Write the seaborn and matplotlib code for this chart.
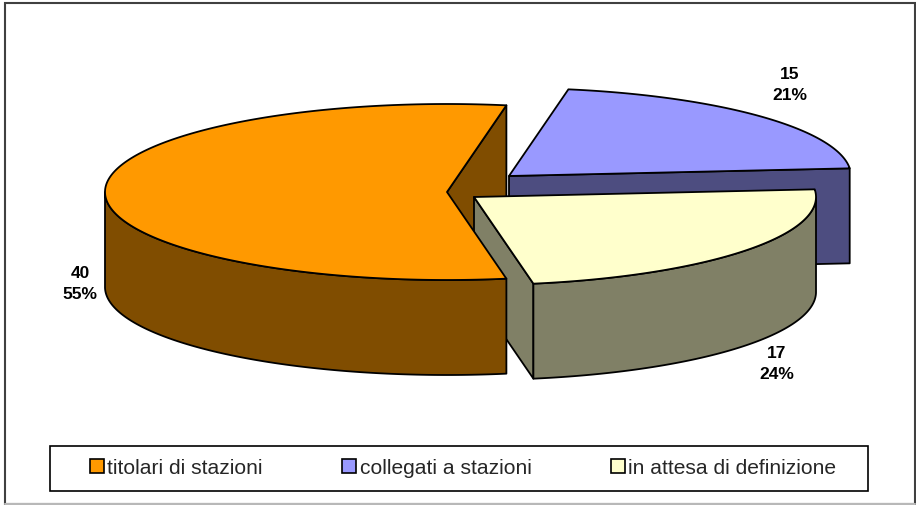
import numpy as np
import seaborn as sns
import matplotlib.pyplot as plt
from matplotlib.patches import Patch, Rectangle

categories = ['titolari di stazioni', 'collegati a stazioni', 'in attesa di definizione']
values = [40, 15, 17]
percents = ['55%', '21%', '24%']

top_colors = ['#FF9900', '#9999FF', '#FFFFCC']
side_colors = ['#804D00', '#4D4D80', '#808066']
apex = [(447, 192), (509, 176), (474, 197)]  # each slice is pulled out on its own
label_pos = [(80, 284), (790, 85), (777, 364)]

RX, RY, DEPTH = 342, 88, 95

sns.set_theme(style='white')
plt.rcParams['font.family'] = ['Liberation Sans', 'DejaVu Sans']

fig = plt.figure(figsize=(9.16, 5.05), dpi=100)
ax = fig.add_axes([0, 0, 1, 1])
ax.set_xlim(0, 916)
ax.set_ylim(505, 0)
ax.axis('off')

ax.add_patch(Rectangle((5, 3), 910, 501, fc='white', ec='#404040', lw=1.5))
ax.plot([5, 915], [504, 504], color='#b8b8b8', lw=1.5, zorder=2)


def arc(center, a0, a1):
    t = np.radians(np.linspace(a0, a1, 200))
    return center[0] + RX * np.cos(t), center[1] - RY * np.sin(t)


def draw(xs, ys, color, z):
    ax.fill(xs, ys, fc=color, ec='black', lw=1.3, joinstyle='round', zorder=z)


# angles go counter clockwise, orange starts at 80 and then yellow and blue follow
starts = {}
a = 80
for i in [0, 2, 1]:
    sweep = values[i] / sum(values) * 360
    starts[i] = (a, a + sweep)
    a += sweep

z_faces = {1: 3, 0: 4, 2: 5}
for i in [1, 0, 2]:
    a0, a1 = starts[i]
    c = apex[i]
    col = side_colors[i]
    z = z_faces[i]
    # cut face, only the one at the start of the slice can be seen
    px = c[0] + RX * np.cos(np.radians(a0))
    py = c[1] - RY * np.sin(np.radians(a0))
    draw([c[0], px, px, c[0]], [c[1], py, py + DEPTH, c[1] + DEPTH], col, z)
    # outer wall, only the part facing the viewer
    lo, hi = max(a0, 180), min(a1, 360)
    if hi > lo:
        x, y = arc(c, lo, hi)
        draw(np.r_[x, x[::-1]], np.r_[y, y[::-1] + DEPTH], col, z + 3)

for i, z in zip([1, 0, 2], [4, 8, 9]):
    a0, a1 = starts[i]
    x, y = arc(apex[i], a0, a1)
    draw(np.r_[apex[i][0], x], np.r_[apex[i][1], y], top_colors[i], z)

for i in range(3):
    ax.text(label_pos[i][0], label_pos[i][1], f'{values[i]}\n{percents[i]}', ha='center', va='center',
            fontsize=12.5, fontweight='bold', linespacing=1.45, color='black', zorder=12)

ax.add_patch(Rectangle((50, 446), 818, 45, fc='white', ec='black', lw=1.2, zorder=12))
handles = [Patch(fc=c, ec='black', lw=1.2) for c in top_colors]
ax.legend(handles, categories, ncol=3, frameon=False, loc='center left',
          bbox_to_anchor=(90 / 916, 1 - 468 / 505), borderpad=0, borderaxespad=0,
          fontsize=15.1, handlelength=0.65, handleheight=0.65, handletextpad=0.17,
          columnspacing=3.8).set_zorder(13)

fig.savefig('out.png', dpi=100)
